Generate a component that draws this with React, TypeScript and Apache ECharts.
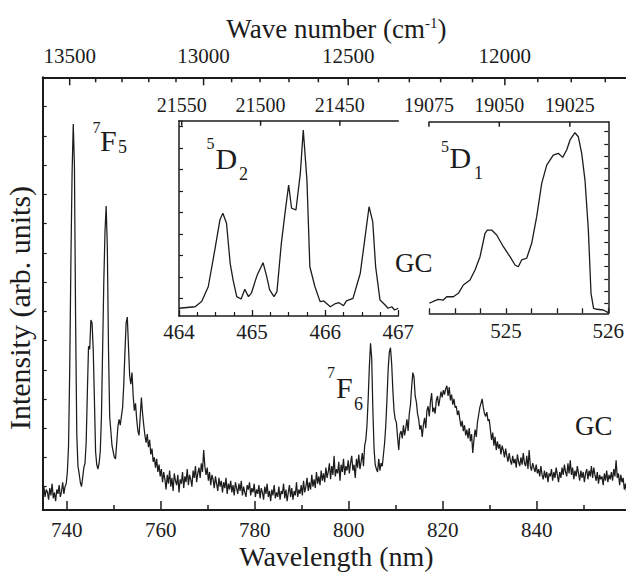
import React, { useEffect, useRef } from 'react';
import * as echarts from 'echarts';

const FONT = 'Liberation Serif';
const INK = '#1c1c1c';

// ---- main spectrum: sampled every 0.25 nm from 735 nm (rows = 5 nm blocks) ----
const mainStart = 735;
const mainStep = 0.25;
const mainIntensity = [
  0.55, 0.8, 0.45, 0.7, 0.62, 0.35, 0.75, 0.5, 0.9, 0.4, 0.6, 0.3, 0.7, 0.55, 0.85, 0.45, 0.62, 0.95, 0.55, 0.8, // 735
  0.9, 1.3, 2.2, 4.8, 8.5, 11.5, 13.2, 11.8, 6.5, 2.6, 1.5, 1.25, 0.95, 0.8, 1.1, 1.45, 1.6, 2.3, 4.0, 5.6, // 740
  5.5, 6.5, 6.4, 5.5, 3.8, 2.0, 1.55, 1.4, 1.6, 2.0, 3.2, 5.5, 7.8, 9.5, 10.4, 9.0, 5.5, 3.2, 2.7, 2.2, // 745
  2.0, 1.8, 1.75, 2.3, 2.85, 3.1, 2.9, 3.2, 3.5, 4.3, 5.4, 6.4, 6.6, 5.6, 4.6, 4.3, 4.7, 3.9, 3.4, 3.65, // 750
  3.1, 2.7, 2.55, 3.2, 3.85, 3.3, 2.9, 2.55, 2.3, 2.6, 2.15, 2.4, 1.9, 2.1, 1.65, 1.8, 1.45, 1.75, 1.3, 1.55, // 755
  1.15, 1.4, 0.95, 1.3, 1.05, 0.7, 1.2, 0.9, 1.35, 0.8, 1.1, 0.65, 1.25, 1.0, 0.85, 1.2, 0.6, 1.05, 0.9, 1.3, // 760
  0.75, 1.15, 0.95, 1.4, 0.85, 1.2, 1.05, 0.8, 1.35, 1.1, 1.5, 0.95, 1.25, 1.45, 1.1, 1.6, 1.3, 2.05, 1.5, 1.2, // 765
  1.45, 1.0, 1.3, 0.85, 1.2, 1.05, 0.75, 1.15, 0.9, 0.65, 1.1, 0.8, 1.0, 0.6, 0.95, 0.75, 1.1, 0.55, 0.9, 0.7, // 770
  1.0, 0.6, 0.85, 0.5, 0.95, 0.75, 0.55, 0.9, 0.65, 1.0, 0.5, 0.8, 0.6, 0.45, 0.85, 0.7, 0.95, 0.5, 0.75, 0.6, // 775
  0.9, 0.45, 0.7, 0.55, 0.85, 0.4, 0.75, 0.6, 0.35, 0.8, 0.55, 0.9, 0.45, 0.65, 0.3, 0.7, 0.5, 0.85, 0.4, 0.6, // 780
  0.45, 0.8, 0.35, 0.65, 0.55, 0.9, 0.4, 0.7, 0.3, 0.6, 0.85, 0.45, 0.75, 0.35, 0.65, 0.5, 0.95, 0.45, 0.7, 0.55, // 785
  0.85, 0.5, 1.0, 0.6, 0.8, 1.1, 0.65, 0.95, 0.7, 1.2, 0.8, 1.05, 0.75, 1.3, 0.9, 1.15, 0.85, 1.35, 1.0, 1.25, // 790
  0.95, 1.45, 1.1, 1.3, 1.6, 1.05, 1.5, 1.2, 1.85, 1.15, 1.4, 1.25, 1.65, 1.0, 1.55, 1.3, 1.75, 1.2, 1.5, 1.35, // 795
  1.7, 1.25, 1.6, 1.85, 1.35, 1.55, 1.1, 1.75, 1.45, 1.9, 1.4, 1.65, 1.95, 1.5, 2.2, 2.4, 2.9, 3.8, 4.9, 5.7, // 800
  5.2, 3.4, 2.1, 1.55, 1.4, 1.3, 1.75, 1.35, 1.6, 1.5, 1.9, 2.3, 2.9, 3.8, 4.8, 5.4, 5.55, 5.0, 4.1, 3.4, // 805
  3.1, 3.0, 2.5, 2.05, 2.6, 2.7, 2.45, 2.9, 2.55, 2.8, 3.1, 2.7, 3.3, 3.6, 4.2, 4.7, 4.55, 3.9, 3.7, 3.3, // 810
  3.1, 2.75, 2.9, 2.5, 2.9, 3.15, 2.8, 3.4, 3.55, 3.2, 3.7, 4.0, 3.35, 3.5, 3.3, 3.75, 3.9, 3.55, 3.8, 4.05, // 815
  3.85, 4.1, 3.95, 4.15, 4.25, 3.9, 4.2, 3.75, 3.95, 3.6, 3.8, 3.5, 3.55, 3.25, 3.4, 3.1, 2.85, 3.05, 2.7, 2.9, // 820
  2.55, 2.75, 2.45, 2.8, 2.35, 2.6, 1.95, 2.4, 2.75, 2.5, 3.0, 3.25, 3.5, 3.65, 3.8, 3.5, 3.3, 3.2, 3.35, 3.05, // 825
  3.1, 2.75, 2.4, 2.65, 2.2, 2.5, 2.05, 2.35, 2.1, 2.25, 1.9, 2.2, 2.05, 1.8, 2.1, 1.85, 1.65, 1.95, 1.7, 1.55, // 830
  1.85, 1.6, 1.75, 1.45, 1.9, 1.65, 1.5, 1.8, 1.55, 1.95, 1.6, 1.5, 1.85, 1.4, 2.05, 1.5, 1.35, 1.6, 1.45, 1.3, // 835
  1.55, 1.25, 1.4, 1.15, 1.5, 1.2, 1.05, 1.35, 1.1, 1.3, 0.95, 1.25, 1.15, 1.4, 1.0, 1.3, 1.1, 1.45, 1.2, 0.95, // 840
  1.3, 1.1, 1.45, 1.2, 1.55, 1.3, 1.15, 1.6, 1.25, 1.7, 1.2, 1.45, 1.05, 1.35, 1.15, 1.5, 1.25, 1.0, 1.35, 1.1, // 845
  1.3, 0.95, 1.25, 1.4, 1.05, 1.35, 1.15, 1.5, 1.1, 1.45, 1.2, 1.0, 1.3, 0.9, 1.2, 1.05, 1.15, 0.85, 1.25, 1.0, // 850
  1.35, 0.95, 1.2, 1.05, 1.3, 1.0, 1.4, 1.15, 1.7, 1.1, 1.25, 0.85, 1.2, 0.95, 1.1, 0.7, 0.9, 0.6, 0.8, 0.55, // 855
];

// ---- inset 5D2 ----
const d2Wavelength = [
  464.0, 464.22, 464.31, 464.4, 464.49, 464.56, 464.6, 464.65, 464.7, 464.74, 464.79, 464.85, 464.9, 464.95, 464.99,
  465.07, 465.15, 465.2, 465.24, 465.3, 465.34, 465.4, 465.45, 465.5, 465.54, 465.6, 465.66, 465.7, 465.75, 465.79,
  465.86, 465.93, 465.98, 466.07, 466.13, 466.19, 466.25, 466.29, 466.38, 466.48, 466.54, 466.6, 466.65, 466.69,
  466.75, 466.82, 466.86, 466.91, 466.95, 467.0,
];
const d2Intensity = [
  0.36, 0.43, 0.67, 1.36, 3.07, 4.47, 4.78, 4.31, 2.45, 1.67, 0.9, 0.79, 1.24, 0.9, 1.06,
  1.91, 2.48, 1.83, 1.21, 0.9, 1.13, 3.38, 4.78, 6.09, 5.01, 4.93, 6.64, 8.65, 6.33, 2.29,
  1.36, 0.67, 0.7, 0.43, 0.56, 0.62, 0.48, 0.7, 0.82, 1.99, 3.53, 5.08, 4.39, 2.29,
  0.74, 0.51, 0.36, 0.43, 0.28, 0.36,
];

// ---- inset 5D1 ----
const d1Wavelength = [
  524.25, 524.306, 524.338, 524.387, 524.42, 524.485, 524.534, 524.583, 524.648, 524.697, 524.746, 524.795, 524.817,
  524.86, 524.909, 524.974, 525.039, 525.088, 525.12, 525.153, 525.202, 525.251, 525.3, 525.349, 525.398, 525.462,
  525.511, 525.554, 525.593, 525.626, 525.674, 525.707, 525.74, 525.772, 525.805, 525.831, 525.856, 525.888, 525.951,
  526.0,
];
const d1Intensity = [
  0.82, 1.03, 1.14, 1.08, 1.35, 1.35, 1.63, 2.31, 2.72, 3.53, 4.62, 6.53, 6.79,
  6.79, 6.39, 5.43, 4.62, 3.94, 3.8, 4.35, 4.49, 5.71, 7.88, 10.6, 12.09, 12.91,
  13.05, 12.72, 13.32, 14.14, 14.73, 14.4, 13.05, 10.87, 6.79, 1.63, 0.41, 0.33, 0.27,
  0.05,
];

// ---- tick values ----
const wavelengthMajorTicks = [740, 760, 780, 800, 820, 840];
const topMajorWavenumbers = [13500, 13000, 12500, 12000];
const topMinorWavenumbers = [13400, 13300, 13200, 13100, 12900, 12800, 12700, 12600, 12400, 12300, 12200, 12100, 11900, 11800, 11700];
const d2MajorWavenumbers = [21550, 21500, 21450];
const d1MajorWavenumbers = [19075, 19050, 19025];
const mainYTickCount = 13; // intervals between the first and last intensity tick
const d2YTickCount = 8;
const d1YTickCount = 14;

function zip(xs: number[], ys: number[]) {
  return xs.map((x, i) => [x, ys[i]]);
}

function waveTickSeries(xi: number, yi: number, majors: number[], minors: number[], majorLen: number, minorLen: number, labelGap: number, fontSize: number) {
  const data = [
    ...majors.map((n) => [1e7 / n, n, 1]),
    ...minors.map((n) => [1e7 / n, n, 0]),
  ];
  return {
    type: 'custom',
    xAxisIndex: xi,
    yAxisIndex: yi,
    clip: false,
    silent: true,
    z: 6,
    encode: { x: 0, y: 2 },
    data,
    renderItem: (params: any, api: any) => {
      const lam = api.value(0);
      const nu = api.value(1);
      const major = api.value(2) === 1;
      const cs = params.coordSys;
      const px = api.coord([lam, 0])[0];
      const top = cs.y;
      const len = major ? majorLen : minorLen;
      const children: any[] = [
        { type: 'line', shape: { x1: px, y1: top, x2: px, y2: top + len }, style: { stroke: INK, lineWidth: 1.5 } },
      ];
      if (major) {
        children.push({
          type: 'text',
          style: { text: String(nu), x: px, y: top - labelGap, align: 'center', verticalAlign: 'middle', fontSize, fontFamily: FONT, fill: INK },
        });
      }
      return { type: 'group', children };
    },
  };
}

const axisLine = (w: number) => ({ show: true, onZero: false, lineStyle: { color: INK, width: w } });
const noTick = { show: false };
const tickAxis = (gridIndex: number, max: number, position: string) => ({
  gridIndex, type: 'value', min: 0, max, interval: 1, position,
  axisLine: { show: false, onZero: false }, axisTick: { show: true, inside: true, length: 4, lineStyle: { color: INK, width: 1.2 } },
  axisLabel: { show: false }, splitLine: { show: false },
});

// annotation label pieces: text, x, y(center), size
const annotations: [string, number, number, number][] = [
  ['7', 92.5, 127.5, 16], ['F', 100, 140, 30], ['5', 118, 147, 18],
  ['5', 206.5, 143, 16], ['D', 215.5, 158, 30], ['2', 239, 174, 18],
  ['5', 441, 146, 16], ['D', 449.5, 157.5, 30], ['1', 474, 173, 18],
  ['7', 327, 372, 16], ['F', 336, 387, 30], ['6', 354, 404, 18],
  ['GC', 575, 426, 27], ['GC', 395, 262.5, 27],
];

const gridBase = { outerBoundsMode: 'none', containLabel: false };

export default function App() {
  const ref = useRef<HTMLDivElement>(null);
  useEffect(() => {
    if (!ref.current) return;
    const chart = echarts.init(ref.current, undefined, { renderer: 'svg' });
    const mainData = mainIntensity.map((v, i) => [mainStart + i * mainStep, v]);
    const option: any = {
      animation: false,
      backgroundColor: '#ffffff',
      textStyle: { fontFamily: FONT, color: INK },
      grid: [
        { ...gridBase, left: 42.7, top: 77.3, width: 587.5, height: 432.7 },
        { ...gridBase, left: 66.7, top: 77.3, width: 470, height: 432.7 },
        { ...gridBase, left: 113.7, top: 77.3, width: 470, height: 432.7 },
        { ...gridBase, left: 179, top: 120.7, width: 219.3, height: 195.3 },
        { ...gridBase, left: 429.3, top: 121.7, width: 179, height: 191.6 },
        { ...gridBase, left: 42.7, top: 106.7, width: 20, height: 380 },
        { ...gridBase, left: 179, top: 126.7, width: 20, height: 171.6 },
        { ...gridBase, left: 429.3, top: 131.7, width: 179, height: 171.6 },
      ],
      xAxis: [
        {
          gridIndex: 0, type: 'value', min: 735, max: 860, position: 'bottom',
          axisLine: axisLine(2), axisTick: noTick, axisLabel: { show: false }, splitLine: { show: false },
          name: 'Wavelength (nm)', nameLocation: 'middle', nameGap: 32, nameMoveOverlap: false,
          nameTextStyle: { fontSize: 28, fontFamily: FONT, color: INK },
        },
        {
          gridIndex: 0, type: 'value', min: 735, max: 860, position: 'top',
          axisLine: axisLine(2), axisTick: noTick, axisLabel: { show: false }, splitLine: { show: false },
          name: '{t|Wave number (cm}{s|-1}{t|)}', nameLocation: 'middle', nameGap: 35, nameMoveOverlap: false,
          nameTextStyle: {
            rich: {
              t: { fontSize: 27, fontFamily: FONT, color: INK },
              s: { fontSize: 15, fontFamily: FONT, color: INK, verticalAlign: 'top' },
            },
          },
        },
        {
          gridIndex: 1, type: 'value', min: wavelengthMajorTicks[0], max: wavelengthMajorTicks[wavelengthMajorTicks.length - 1], interval: 20,
          axisLine: { show: false, onZero: false }, axisTick: { show: true, inside: true, length: 9, lineStyle: { color: INK, width: 1.5 } },
          axisLabel: { show: true, fontSize: 21, fontFamily: FONT, color: INK, margin: 9 }, splitLine: { show: false },
        },
        {
          gridIndex: 2, type: 'value', min: 750, max: 850, interval: 20,
          axisLine: { show: false, onZero: false }, axisTick: { show: true, inside: true, length: 5, lineStyle: { color: INK, width: 1.5 } },
          axisLabel: { show: false }, splitLine: { show: false },
        },
        {
          gridIndex: 3, type: 'value', min: 464, max: 467, interval: 1,
          axisLine: axisLine(1.5), axisTick: { show: true, inside: true, length: 6, lineStyle: { color: INK, width: 1.3 } },
          minorTick: { show: true, splitNumber: 4, length: 4, lineStyle: { color: INK, width: 1.2 } },
          axisLabel: { show: true, fontSize: 21, fontFamily: FONT, color: INK, margin: 5, showMaxLabel: true, showMinLabel: true },
          splitLine: { show: false },
        },
        {
          gridIndex: 3, type: 'value', min: 464, max: 467, position: 'top',
          axisLine: axisLine(1.5), axisTick: noTick, axisLabel: { show: false }, splitLine: { show: false },
        },
        {
          gridIndex: 4, type: 'value', min: 524.25, max: 526, interval: 0.25,
          axisLine: axisLine(1.5), axisTick: { show: true, inside: true, length: 5, lineStyle: { color: INK, width: 1.3 } },
          axisLabel: {
            show: true, fontSize: 21, fontFamily: FONT, color: INK, margin: 7, showMaxLabel: true,
            formatter: (v: number) => (Math.abs(v - Math.round(v)) < 1e-6 ? String(Math.round(v)) : ''),
          },
          splitLine: { show: false },
        },
        {
          gridIndex: 4, type: 'value', min: 524.25, max: 526, position: 'top',
          axisLine: axisLine(1.5), axisTick: noTick, axisLabel: { show: false }, splitLine: { show: false },
        },
        { gridIndex: 5, type: 'value', min: 0, max: 1, show: false },
        { gridIndex: 6, type: 'value', min: 0, max: 1, show: false },
        { gridIndex: 7, type: 'value', min: 0, max: 1, show: false },
      ],
      yAxis: [
        {
          gridIndex: 0, type: 'value', min: 0, max: 14.8,
          axisLine: axisLine(2), axisTick: noTick, axisLabel: { show: false }, splitLine: { show: false },
        },
        { gridIndex: 1, type: 'value', min: 0, max: 1, show: false },
        { gridIndex: 2, type: 'value', min: 0, max: 1, show: false },
        {
          gridIndex: 3, type: 'value', min: 0, max: 9.08,
          axisLine: axisLine(1.5), axisTick: noTick, axisLabel: { show: false }, splitLine: { show: false },
        },
        {
          gridIndex: 4, type: 'value', min: 0, max: 15.63, position: 'right',
          axisLine: axisLine(1.5), axisTick: noTick, axisLabel: { show: false }, splitLine: { show: false },
        },
        tickAxis(5, mainYTickCount, 'left'),
        tickAxis(6, d2YTickCount, 'left'),
        tickAxis(7, d1YTickCount, 'right'),
      ],
      series: [
        {
          type: 'line', xAxisIndex: 0, yAxisIndex: 0, data: mainData,
          showSymbol: false, symbol: 'none', lineStyle: { color: INK, width: 1.25 }, z: 3,
        },
        waveTickSeries(0, 0, topMajorWavenumbers, topMinorWavenumbers, 8, 5, 21.5, 21),
        {
          type: 'line', xAxisIndex: 4, yAxisIndex: 3, data: zip(d2Wavelength, d2Intensity),
          showSymbol: false, symbol: 'none', lineStyle: { color: INK, width: 1.3 }, z: 3,
        },
        waveTickSeries(4, 3, d2MajorWavenumbers, [], 5, 5, 16, 20),
        {
          type: 'line', xAxisIndex: 6, yAxisIndex: 4, data: zip(d1Wavelength, d1Intensity),
          showSymbol: false, symbol: 'none', lineStyle: { color: INK, width: 1.3 }, z: 3,
        },
        waveTickSeries(6, 4, d1MajorWavenumbers, [], 5, 5, 17, 20),
      ],
      graphic: [
        ...annotations.map(([t, x, y, s]) => ({
          type: 'text', x, y, silent: true,
          style: { text: t, fontSize: s, fontFamily: FONT, fill: INK, align: 'left', verticalAlign: 'middle' },
        })),
        {
          type: 'text', x: 19, y: 308, rotation: Math.PI / 2, silent: true,
          style: { text: 'Intensity (arb. units)', fontSize: 30, fontFamily: FONT, fill: INK, align: 'center', verticalAlign: 'middle' },
        },
      ],
    };
    chart.setOption(option);
    return () => chart.dispose();
  }, []);
  return <div ref={ref} style={{ position: 'fixed', left: 0, top: 0, width: 626, height: 573, background: '#fff' }} />;
}
